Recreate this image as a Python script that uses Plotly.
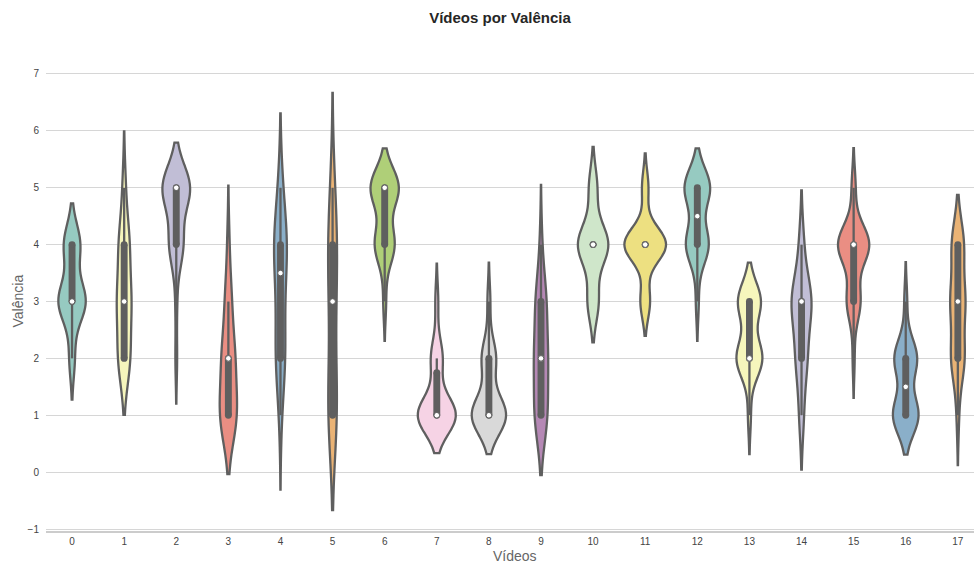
import colorsys

import numpy as np
import plotly.graph_objects as go

# Vídeos avaliados e escala de valência (1 a 5)
videos = list(range(18))
niveis = [1, 2, 3, 4, 5]

# Número de respostas em cada nível da escala, por vídeo
resp_1 = [0, 0, 0, 8, 1, 6, 0, 13, 12, 6, 0, 0, 0, 1, 2, 0, 9, 2]
resp_2 = [2, 8, 1, 6, 5, 2, 0, 4, 5, 6, 0, 0, 0, 9, 5, 1, 8, 12]
resp_3 = [10, 9, 1, 3, 3, 3, 1, 1, 1, 5, 4, 3, 1, 8, 9, 7, 1, 13]
resp_4 = [6, 7, 8, 1, 7, 5, 7, 0, 0, 1, 11, 13, 8, 0, 2, 16, 0, 11]
resp_5 = [0, 2, 16, 0, 2, 2, 10, 0, 0, 0, 3, 2, 9, 0, 0, 2, 0, 0]

titulo = "Vídeos por Valência"
rotulo_x = "Vídeos"
rotulo_y = "Valência"

# Paleta Set3, dessaturada como nos gráficos categóricos do seaborn
paleta_set3 = ["#8dd3c7", "#ffffb3", "#bebada", "#fb8072", "#80b1d3", "#fdb462",
               "#b3de69", "#fccde5", "#d9d9d9", "#bc80bd", "#ccebc5", "#ffed6f"]


def hex_rgb(cor):
    return tuple(int(cor[i:i + 2], 16) / 255 for i in (1, 3, 5))


def rgb_hex(rgb):
    return "#%02x%02x%02x" % tuple(int(round(c * 255)) for c in rgb)


def dessaturar(cor, fator=0.75):
    h, l, s = colorsys.rgb_to_hls(*hex_rgb(cor))
    return rgb_hex(colorsys.hls_to_rgb(h, l, s * fator))


cores = [dessaturar(paleta_set3[i % len(paleta_set3)]) for i in videos]
lum = min(colorsys.rgb_to_hls(*hex_rgb(c))[1] for c in cores) * 0.6
cinza = rgb_hex((lum, lum, lum))

LW = 2.3          # espessura do contorno e dos bigodes
LARGURA = 0.8     # largura máxima de um violino (unidades de categoria)


def amostra(i):
    contagens = [resp_1[i], resp_2[i], resp_3[i], resp_4[i], resp_5[i]]
    return np.repeat(np.array(niveis, dtype=float), contagens)


def banda_scott(a):
    return a.std(ddof=1) * len(a) ** (-1 / 5)


def pico_kde(a, bw):
    grade = np.linspace(a.min() - 2 * bw, a.max() + 2 * bw, 100)
    d = np.exp(-0.5 * ((grade[:, None] - a[None, :]) / bw) ** 2).sum(axis=1)
    return (d / (len(a) * bw * np.sqrt(2 * np.pi))).max()


amostras = [amostra(i) for i in videos]
bandas = [banda_scott(a) for a in amostras]
picos = [pico_kde(a, bw) for a, bw in zip(amostras, bandas)]
pico_max = max(picos)

fig = go.Figure()

# Corpos dos violinos (escala por área: largura proporcional ao pico da densidade)
for i, a, bw, pk in zip(videos, amostras, bandas, picos):
    fig.add_trace(go.Violin(
        x0=i, y=a, name=str(i),
        bandwidth=bw, spanmode="soft", scalemode="width",
        width=LARGURA * pk / pico_max,
        points=False, box_visible=False, meanline_visible=False,
        fillcolor=cores[i], opacity=1,
        line=dict(color=cinza, width=LW),
        hoverinfo="skip",
    ))

# Caixa interna: bigodes, intervalo interquartil e mediana
for i, a in zip(videos, amostras):
    q25, q50, q75 = np.percentile(a, [25, 50, 75])
    lim = 1.5 * (q75 - q25)
    h1 = a[a >= q25 - lim].min()
    h2 = a[a <= q75 + lim].max()
    fig.add_trace(go.Scatter(
        x=[i, i], y=[h1, h2], mode="lines",
        line=dict(color=cinza, width=LW), hoverinfo="skip",
    ))
    fig.add_trace(go.Scatter(
        x=[i, i], y=[q25, q75], mode="lines+markers",
        line=dict(color=cinza, width=LW * 3),
        marker=dict(color=cinza, size=LW * 3),
        hoverinfo="skip",
    ))
    fig.add_trace(go.Scatter(
        x=[i], y=[q50], mode="markers",
        marker=dict(color="white", size=LW * 2 + 1,
                    line=dict(color=cinza, width=1)),
        hoverinfo="skip",
    ))

fonte = "Liberation Sans, Arial, sans-serif"

fig.update_layout(
    width=974, height=565,
    margin=dict(l=46, r=0, t=72, b=34),
    paper_bgcolor="white", plot_bgcolor="white",
    violinmode="overlay", showlegend=False,
    font=dict(family=fonte, color="#444444"),
    title=dict(
        text="<b>" + titulo + "</b>",
        xref="container", x=500 / 974, xanchor="center",
        yref="container", y=1 - 18 / 565, yanchor="middle",
        font=dict(size=15, color="#262626", family=fonte),
    ),
    xaxis=dict(
        range=[-0.5, 17.31],
        tickmode="array", tickvals=videos, ticktext=[str(v) for v in videos],
        showgrid=False, zeroline=False,
        showline=True, linecolor="#cccccc", linewidth=1.5,
        ticks="", ticklabelstandoff=0,
        tickfont=dict(size=10, color="#444444"),
    ),
    yaxis=dict(
        range=[-1.035, 7.035], tick0=0, dtick=1,
        showgrid=True, gridcolor="#d6d6d6", gridwidth=1,
        zeroline=False, showline=False,
        ticks="", ticklabelstandoff=6,
        tickfont=dict(size=10, color="#444444"),
    ),
    annotations=[
        dict(text=rotulo_x, xref="x", x=8.5, yref="paper", y=-25 / 459,
             xanchor="center", yanchor="middle", showarrow=False,
             font=dict(size=14, color="#666666", family=fonte)),
        dict(text=rotulo_y, xref="paper", x=(17 - 46) / 928, yref="paper", y=0.5,
             xanchor="center", yanchor="middle", textangle=-90, showarrow=False,
             font=dict(size=14, color="#666666", family=fonte)),
    ],
)

fig.write_html("out.html")
